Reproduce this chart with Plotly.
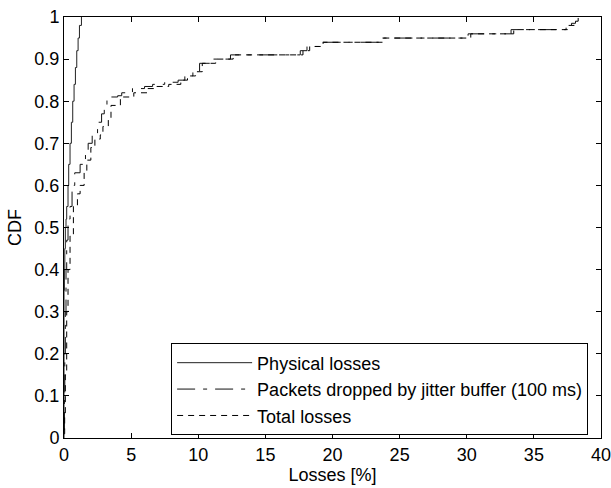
import plotly.graph_objects as go

# Physical losses (solid)
phys_x = [0, 0, 0.03, 0.06, 0.1, 0.15, 0.2, 0.3, 0.35, 0.45, 0.55, 0.65, 0.75, 0.85, 0.95, 1.05, 1.15, 1.3]
phys_y = [0, 0.35, 0.4, 0.45, 0.5, 0.52, 0.55, 0.6, 0.65, 0.7, 0.75, 0.8, 0.84, 0.88, 0.92, 0.95, 0.98, 1.0]

# Packets dropped by jitter buffer (100 ms)
jit_x = [0, 0.03, 0.06, 0.1, 0.15, 0.2, 0.3, 0.45, 0.6, 0.8, 1.2, 1.6, 1.8, 2.1, 2.5, 2.8, 3.0, 3.2,
         4.0, 4.3, 5.1, 6.0, 6.6, 7.5, 8.5, 9.0, 9.6, 10.1, 11.1, 12.4, 17.6, 18.1, 19.1, 23.6,
         30.1, 33.3, 37.4, 37.8, 38.1]
jit_y = [0.02, 0.1, 0.2, 0.3, 0.4, 0.47, 0.52, 0.55, 0.6, 0.63, 0.65, 0.68, 0.7, 0.72, 0.75, 0.77, 0.79, 0.81,
         0.813, 0.82, 0.83, 0.835, 0.84, 0.845, 0.85, 0.86, 0.87, 0.89, 0.9, 0.91, 0.92, 0.93, 0.94, 0.95,
         0.96, 0.97, 0.98, 0.985, 0.99]

# Total losses
tot_x = [0, 0.05, 0.1, 0.2, 0.3, 0.45, 0.7, 1.0, 1.2, 1.5, 1.7, 2.0, 2.3, 2.7, 2.9, 3.3, 3.5, 4.2, 5.2,
         6.2, 6.8, 7.8, 8.7, 9.2, 9.8, 10.3, 11.3, 12.6, 17.8, 18.3, 19.3, 23.8, 30.3, 33.5, 37.5, 38.0, 38.3]
tot_y = [0.01, 0.05, 0.15, 0.3, 0.4, 0.48, 0.55, 0.58, 0.6, 0.63, 0.66, 0.69, 0.71, 0.72, 0.74, 0.76, 0.79, 0.81, 0.82,
         0.83, 0.835, 0.84, 0.85, 0.86, 0.87, 0.89, 0.9, 0.91, 0.92, 0.93, 0.94, 0.95, 0.96, 0.97, 0.98, 0.99, 1.0]

x_ticks = [0, 5, 10, 15, 20, 25, 30, 35, 40]
y_ticks = [0, 0.1, 0.2, 0.3, 0.4, 0.5, 0.6, 0.7, 0.8, 0.9, 1]
y_tick_text = ["0", "0.1", "0.2", "0.3", "0.4", "0.5", "0.6", "0.7", "0.8", "0.9", "1"]

FONT = "Arial, Liberation Sans, sans-serif"
FS = 18

fig = go.Figure()
fig.add_trace(go.Scatter(x=phys_x, y=phys_y, mode="lines", line_shape="hv",
                         name="Physical losses", line=dict(color="#222", width=1)))
fig.add_trace(go.Scatter(x=jit_x, y=jit_y, mode="lines", line_shape="hv",
                         name="Packets dropped by jitter buffer (100 ms)",
                         line=dict(color="#111", width=1, dash="18px,8px,4px,8px")))
fig.add_trace(go.Scatter(x=tot_x, y=tot_y, mode="lines", line_shape="hv",
                         name="Total losses", line=dict(color="#000", width=1, dash="6px,5px")))

axis_common = dict(showline=True, linecolor="black", linewidth=1, mirror="allticks",
                   ticks="inside", ticklen=5, tickcolor="black", showgrid=False, zeroline=False,
                   automargin=False, ticklabeloverflow="allow",
                   tickfont=dict(family=FONT, size=FS, color="black"))

fig.update_xaxes(range=[0, 40], tickvals=x_ticks, ticktext=[str(v) for v in x_ticks],
                 title=dict(text="Losses [%]", font=dict(family=FONT, size=FS, color="black"), standoff=2),
                 **axis_common)
fig.update_yaxes(range=[0, 1], tickvals=y_ticks, ticktext=y_tick_text,
                 title=dict(text="CDF", font=dict(family=FONT, size=FS, color="black"), standoff=8),
                 **axis_common)

fig.update_layout(
    width=611, height=488,
    margin=dict(l=64, r=10, t=17, b=50),
    plot_bgcolor="white", paper_bgcolor="white",
    showlegend=True,
    legend=dict(x=0.976, y=0.006, xanchor="right", yanchor="bottom",
                bgcolor="white", bordercolor="black", borderwidth=1,
                font=dict(family=FONT, size=FS, color="black"),
                itemwidth=75, tracegroupgap=0),
)

fig.write_html("out.html")
